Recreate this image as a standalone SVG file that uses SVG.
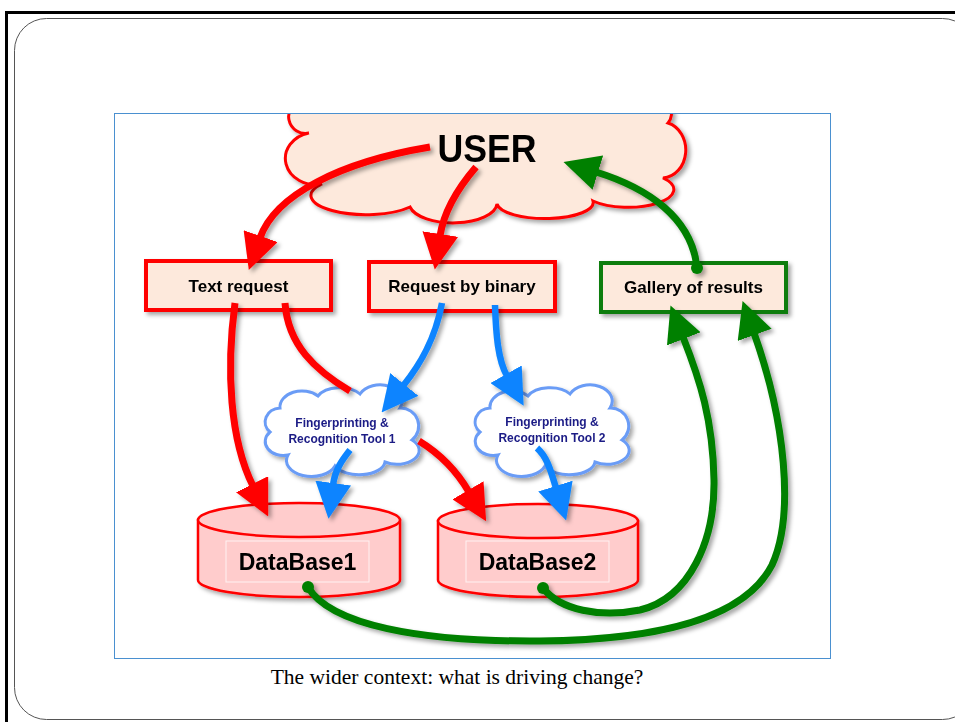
<svg xmlns="http://www.w3.org/2000/svg" width="955" height="722" viewBox="0 0 955 722">
<defs>
<style>
.box{fill:#fde9dc;stroke-width:4}
.lbl{font-family:"Liberation Sans",Arial,sans-serif;font-weight:bold;fill:#000;text-anchor:middle}
.fp{font-family:"Liberation Sans",Arial,sans-serif;font-weight:bold;font-size:12px;fill:#1a1a85;text-anchor:middle}
.cyl{fill:#ffcccc;stroke:#ff0000;stroke-width:2.5}
.fpc{fill:#ffffff;stroke:#6a9cf6;stroke-width:3}
.con{fill:none;stroke-width:7}
.red{stroke:#ff0000}
.blue{stroke:#0a84ff;stroke-width:6.5}
.green{stroke:#008000}
</style>
<filter id="sh" x="-10%" y="-10%" width="130%" height="130%">
<feDropShadow dx="3" dy="3" stdDeviation="2" flood-color="#000" flood-opacity="0.35"/>
</filter>
<clipPath id="frame"><rect x="115" y="114" width="716" height="545"/></clipPath>
<marker id="ah-red" markerUnits="userSpaceOnUse" viewBox="0 0 36 36" markerWidth="36" markerHeight="36" refX="2" refY="18" orient="auto"><path d="M0,0 L36,18 L0,36 Z" fill="#ff0000"/></marker>
<marker id="ah-blue" markerUnits="userSpaceOnUse" viewBox="0 0 36 36" markerWidth="36" markerHeight="36" refX="2" refY="18" orient="auto"><path d="M0,0 L36,18 L0,36 Z" fill="#0a84ff"/></marker>
<marker id="ah-green" markerUnits="userSpaceOnUse" viewBox="0 0 36 36" markerWidth="36" markerHeight="36" refX="2" refY="18" orient="auto"><path d="M0,0 L36,18 L0,36 Z" fill="#008000"/></marker>
</defs>

<rect x="0" y="0" width="955" height="722" fill="#ffffff"/>
<g id="slide-frame">
<path d="M6.5,722 L6.5,12.5 L955,12.5" fill="none" stroke="#000" stroke-width="3"/>
<rect x="14.5" y="18.5" width="960" height="701" rx="32" ry="32" fill="none" stroke="#555" stroke-width="1"/>
<rect x="114.5" y="113.5" width="716" height="545" fill="#ffffff" stroke="#4a90d0" stroke-width="1"/>
</g>

<g clip-path="url(#frame)">
<g id="user" filter="url(#sh)">
<path d="M302,100 A16 16 0 0 0 309,133 A30 26 0 0 0 322,184 A46 16 0 0 0 410,207 A44 20 0 0 0 497,204 A48 16 0 0 0 593,201 A36 14 0 0 0 663,178 A24 28 0 0 0 668,123 A14 14 0 0 0 655,100 Z" fill="#fde9dc" stroke="#ff0000" stroke-width="3"/>
<text class="lbl" x="487" y="162" font-size="39" textLength="99" lengthAdjust="spacingAndGlyphs">USER</text>
</g>
</g>

<g id="text-request" filter="url(#sh)">
<rect class="box" x="146" y="261" width="185" height="49" stroke="#ff0000"/>
<text class="lbl" x="238.5" y="291.5" font-size="17">Text request</text>
</g>
<g id="request-binary" filter="url(#sh)">
<rect class="box" x="369" y="262" width="186" height="49" stroke="#ff0000"/>
<text class="lbl" x="462" y="292" font-size="17">Request by binary</text>
</g>
<g id="gallery" filter="url(#sh)">
<rect class="box" x="601" y="263" width="185" height="49" stroke="#0a7d0a"/>
<text class="lbl" x="693.5" y="293" font-size="17">Gallery of results</text>
</g>

<g id="db1" filter="url(#sh)">
<path class="cyl" d="M198,520 L198,580 A101 17 0 0 0 400,580 L400,520 Z"/>
<ellipse class="cyl" cx="299" cy="520" rx="101" ry="17"/>
<rect x="226" y="541" width="143" height="41" fill="none" stroke="#fff2f2" stroke-width="1"/>
<text class="lbl" x="297.5" y="570" font-size="23">DataBase1</text>
</g>
<g id="db2" filter="url(#sh)">
<path class="cyl" d="M438,521 L438,580 A100 17 0 0 0 638,580 L638,521 Z"/>
<ellipse class="cyl" cx="538" cy="521" rx="100" ry="17"/>
<rect x="466" y="541" width="143" height="41" fill="none" stroke="#fff2f2" stroke-width="1"/>
<text class="lbl" x="537.5" y="570" font-size="23">DataBase2</text>
</g>

<g id="tool1" filter="url(#sh)">
<path class="fpc" d="M280,408 A22 16 0 0 1 318,396 A24 14 0 0 1 360,394 A22 16 0 0 1 400,408 A18 18 0 0 1 412,440 A22 14 0 0 1 385,462 A26 14 0 0 1 335,466 A22 14 0 0 1 288,455 A18 14 0 0 1 270,432 A16 14 0 0 1 280,408 Z"/>
<text class="fp" x="342" y="427">Fingerprinting &amp;</text>
<text class="fp" x="342" y="442.5">Recognition Tool 1</text>
</g>
<g id="tool2" filter="url(#sh)">
<path class="fpc" transform="translate(210,0)" d="M280,408 A22 16 0 0 1 318,396 A24 14 0 0 1 360,394 A22 16 0 0 1 400,408 A18 18 0 0 1 412,440 A22 14 0 0 1 385,462 A26 14 0 0 1 335,466 A22 14 0 0 1 288,455 A18 14 0 0 1 270,432 A16 14 0 0 1 280,408 Z"/>
<text class="fp" x="552" y="426">Fingerprinting &amp;</text>
<text class="fp" x="552" y="441.5">Recognition Tool 2</text>
</g>

<g id="connectors" filter="url(#sh)">
<path class="con red" d="M430,147 C340,162 275,195 260,238" marker-end="url(#ah-red)"/>
<path class="con red" d="M476,167 C458,188 444,210 440,236" marker-end="url(#ah-red)"/>
<path class="con green" d="M697,268 C692,218 648,188 596,172" marker-end="url(#ah-green)"/>
<path class="con red" d="M235,303 C226,370 230,440 253,486" marker-end="url(#ah-red)"/>
<path class="con red" d="M285,303 C288,345 315,370 350,391 M419,441 C437,452 455,468 469,492" marker-end="url(#ah-red)"/>
<path class="con blue" d="M442,303 C435,340 420,365 403,386" marker-end="url(#ah-blue)"/>
<path class="con blue" d="M495,305 C496,335 498,360 507,376" marker-end="url(#ah-blue)"/>
<path class="con blue" d="M350,450 C342,460 335,470 333,485" marker-end="url(#ah-blue)"/>
<path class="con blue" d="M537,448 C548,458 551,472 556,488" marker-end="url(#ah-blue)"/>
<path class="con green" d="M543,588 C560,610 600,618 640,610 C690,598 715,540 714,480 C713,420 700,380 683,337" marker-end="url(#ah-green)"/>
<path class="con green" d="M308,587 C330,625 420,642 540,641 C660,640 745,618 772,565 C795,515 785,420 754,333" marker-end="url(#ah-green)"/>
<circle cx="697" cy="268" r="6" fill="#008000"/>
<circle cx="308" cy="587" r="6" fill="#008000"/>
<circle cx="543" cy="588" r="6" fill="#008000"/>
</g>

<text x="457" y="684" font-family="'Liberation Serif','Times New Roman',serif" font-size="21.5" text-anchor="middle" fill="#000">The wider context: what is driving change?</text>
</svg>
